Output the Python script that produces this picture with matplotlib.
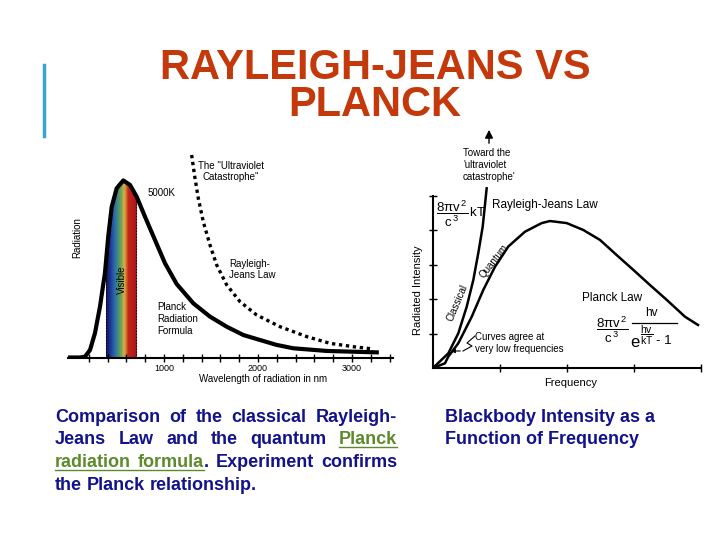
import numpy as np
import matplotlib.pyplot as plt
from matplotlib.colors import LinearSegmentedColormap
from matplotlib.lines import Line2D

plt.rcParams['font.family'] = ['Liberation Sans', 'DejaVu Sans']
plt.rcParams['mathtext.fontset'] = 'custom'
plt.rcParams['mathtext.rm'] = 'Liberation Sans'
plt.rcParams['mathtext.it'] = 'Liberation Sans'
plt.rcParams['mathtext.bf'] = 'Liberation Sans:bold'

# left chart: 5000 K curve vs wavelength in nm (relative radiation)
lamPlanck = [0, 106, 160, 213, 266, 319, 372, 407, 444, 497, 567, 638, 710, 798,
             904, 1011, 1135, 1312, 1489, 1667, 1844, 2021, 2199, 2376, 2731, 3263]
radPlanck = [0, 0, 0.005, 0.042, 0.138, 0.287, 0.477, 0.683, 0.852, 0.956, 1.0, 0.975,
             0.908, 0.795, 0.664, 0.532, 0.415, 0.306, 0.231, 0.174, 0.127, 0.099,
             0.071, 0.052, 0.037, 0.029]
lamRJ = [1294, 1330, 1365, 1418, 1489, 1560, 1667, 1809, 1986, 2234, 2518, 2766, 3014, 3227]
radRJ = [1.144, 1.012, 0.899, 0.767, 0.636, 0.523, 0.41, 0.315, 0.24, 0.174, 0.118,
         0.080, 0.061, 0.048]
visible = [380, 700]
lamTicks = list(range(200, 3401, 200))
lamTickLabels = [str(t) if t % 1000 == 0 else '' for t in lamTicks]

# right chart: intensity vs frequency (arbitrary units)
freqClassical = [0, 0.229, 0.378, 0.503, 0.602, 0.676, 0.742, 0.801]
intClassical = [0, 0.427, 1.01, 1.78, 2.56, 3.34, 4.11, 5.22]
freqQuantum = [0, 0.179, 0.228, 0.378, 0.578, 0.751, 0.925, 1.124, 1.373, 1.622, 1.746,
               1.996, 2.243, 2.493, 2.742, 2.990, 3.239, 3.488, 3.761, 3.955]
intQuantum = [0, 0.137, 0.33, 0.72, 1.49, 2.27, 2.94, 3.53, 3.96, 4.21, 4.27, 4.21,
              4.01, 3.72, 3.28, 2.85, 2.41, 1.98, 1.49, 1.25]
freqTicks = [1, 2, 3, 4]
intTicks = [1, 2, 3, 4, 5]

captionLeft = [
    "Comparison of the classical Rayleigh-",
    "Jeans Law and the quantum Planck",
    "radiation formula. Experiment confirms",
    "the Planck relationship.",
]
linkWords = [(1, 5), (2, 0), (2, 1)]
captionRight = ["Blackbody Intensity as a", "Function of Frequency"]

titleColor = '#c4390b'
navy = '#12128a'
green = '#5d8a2c'

W, H = 720, 540
fig = plt.figure(figsize=(7.2, 5.4), dpi=100)

# ---- left chart
ax1 = fig.add_axes([68/W, 1-357.5/H, 325/W, 207.5/H])
spectrum = LinearSegmentedColormap.from_list('spectrum', [
    (0.0, '#16164f'), (0.12, '#1c2f8c'), (0.25, '#2a5fae'), (0.37, '#3b8a86'),
    (0.5, '#7aa24c'), (0.58, '#cdb450'), (0.64, '#d9822c'), (0.72, '#c4261c'),
    (1.0, '#a8161a')])
fill = ax1.fill_between(lamPlanck, 0, radPlanck, color='none', lw=0)
img = ax1.imshow(np.linspace(0, 1, 256).reshape(1, -1), cmap=spectrum, aspect='auto',
                 extent=[visible[0], visible[1], 0, 1.0], zorder=1)
img.set_clip_path(fill.get_paths()[0], transform=ax1.transData)
ax1.vlines(visible, 0, np.interp(visible, lamPlanck, radPlanck), colors='black',
           linestyles=':', lw=0.8, zorder=2)
ax1.plot(lamPlanck, radPlanck, color='black', lw=3, zorder=3)
ax1.plot(lamRJ, radRJ, color='black', lw=2.4, linestyle=(0, (1, 1.1)), zorder=3)

ax1.set_xlim(-21, 3436)
ax1.set_ylim(0, 1.172)
for s in ['left', 'top', 'right']:
    ax1.spines[s].set_visible(False)
ax1.spines['bottom'].set_linewidth(1.5)
ax1.set_xticks(lamTicks)
ax1.set_xticklabels(lamTickLabels, fontsize=6.5)
ax1.tick_params(axis='x', direction='inout', length=6, width=1, pad=2)
ax1.set_yticks([])
ax1.set_xlabel('Wavelength of radiation in nm', fontsize=7, va='top')
ax1.xaxis.set_label_coords(0.6, -0.08)
ax1.text(0.028, 0.58, 'Radiation', transform=ax1.transAxes, rotation=90,
         ha='center', va='center', fontsize=7)
ax1.text(548, 0.438, 'Visible', rotation=90, ha='center', va='center', fontsize=7, zorder=4)
ax1.text(830, 0.928, '5000K', ha='left', va='center', fontsize=7)
ax1.text(1713, 1.05, 'The "Ultraviolet\nCatastrophe"', ha='center', va='center', fontsize=7)
ax1.text(1691, 0.497, 'Rayleigh-\nJeans Law', ha='left', va='center', fontsize=7)
ax1.text(926, 0.2175, 'Planck\nRadiation\nFormula', ha='left', va='center', fontsize=7,
         linespacing=1.3)

# ---- right chart
ax2 = fig.add_axes([433/W, 1-368/H, 268/W, 243/H])
ax2.plot(freqClassical, intClassical, color='black', lw=1.8)
ax2.plot(freqQuantum, intQuantum, color='black', lw=1.8)
ax2.set_xlim(0, 4.0)
ax2.set_ylim(0, 7.06)
for s in ['top', 'right']:
    ax2.spines[s].set_visible(False)
ax2.spines['left'].set_bounds(0, 5)
ax2.spines['left'].set_linewidth(1.5)
ax2.spines['bottom'].set_linewidth(1.5)
ax2.set_xticks(freqTicks)
ax2.set_yticks(intTicks)
ax2.set_xticklabels([])
ax2.set_yticklabels([])
ax2.tick_params(direction='inout', length=6, width=1)

ax2.annotate('', xy=(0.836, 7.0), xytext=(0.836, 6.45),
             arrowprops=dict(arrowstyle='-|>', color='black', lw=1, mutation_scale=12))
ax2.text(0.448, 5.9, "Toward the\n'ultraviolet\ncatastrophe'", ha='left', va='center',
         fontsize=7)
ax2.text(0.88, 4.74, 'Rayleigh-Jeans Law', ha='left', va='center', fontsize=8.5)
ax2.text(0.05, 4.49, r'$\dfrac{8\pi v^{\,2}}{c^{\,3}}\,\mathrm{kT}$', ha='left', va='center',
         fontsize=9.5)
ax2.text(0.366, 1.90, 'Classical', rotation=67, ha='center', va='center', fontsize=7)
ax2.text(0.903, 3.10, 'Quantum', rotation=52, ha='center', va='center', fontsize=7)
ax2.text(0.627, 0.727, 'Curves agree at\nvery low frequencies', ha='left', va='center',
         fontsize=7)
ax2.plot([0.627, 0.507, 0.582, 0.448], [0.93, 0.727, 0.64, 0.494], color='black', lw=0.8)
ax2.annotate('', xy=(0.224, 0.494), xytext=(0.448, 0.494),
             arrowprops=dict(arrowstyle='-|>', color='black', lw=0.8, mutation_scale=6))
ax2.text(2.224, 2.03, 'Planck Law', ha='left', va='center', fontsize=8.5)
# Planck formula assembled from pieces so the exponent stays readable
ax2.text(2.672, 1.105, r'$\dfrac{8\pi v^{\,2}}{c^{\,3}}$', ha='center', va='center',
         fontsize=9.5)
ax2.plot([2.97, 3.642], [1.308, 1.308], color='black', lw=0.9)
ax2.text(3.254, 1.6, 'hv', ha='center', va='center', fontsize=8.5)
ax2.text(3.015, 0.74, 'e', ha='center', va='center', fontsize=12)
ax2.text(3.194, 0.959, r'$\dfrac{hv}{kT}$', ha='center', va='center', fontsize=7.5)
ax2.text(3.45, 0.78, '- 1', ha='center', va='center', fontsize=9.5)
ax2.text(-0.056, 0.321, 'Radiated Intensity', transform=ax2.transAxes, rotation=90,
         ha='center', va='center', fontsize=8)
ax2.text(0.513, -0.062, 'Frequency', transform=ax2.transAxes, ha='center', va='center',
         fontsize=8)

# ---- slide title and bar
fig.text(375/W, 1-79/H, 'RAYLEIGH-JEANS VS', ha='center', va='baseline', fontsize=30,
         fontweight='bold', color=titleColor)
fig.text(375/W, 1-116/H, 'PLANCK', ha='center', va='baseline', fontsize=30,
         fontweight='bold', color=titleColor)
fig.add_artist(Line2D([44/W, 44/W], [1-65/H, 1-136/H], color='#3aa6d0', lw=2.5))

# ---- captions
capSize = 13
renderer = fig.canvas.get_renderer()


def text_width(s):
    t = fig.text(0, 0, s, fontsize=capSize, fontweight='bold')
    w = t.get_window_extent(renderer).width
    t.remove()
    return w


spaceW = text_width('a a') - text_width('aa')
left, right = 55, 397
baselines = [422, 444.5, 467, 489.5]
for i, line in enumerate(captionLeft):
    words = line.split()
    widths = [text_width(w) for w in words]
    if i < len(captionLeft) - 1:
        gap = (right - left - sum(widths)) / (len(words) - 1)
    else:
        gap = spaceW
    x = left
    y = 1 - baselines[i]/H
    ulStart, ulEnd = None, None
    for j, w in enumerate(words):
        if (i, j) in linkWords:
            core = w.rstrip('.')
            fig.text(x/W, y, core, fontsize=capSize, fontweight='bold', color=green,
                     va='baseline')
            cw = text_width(core)
            if core != w:
                fig.text((x + cw)/W, y, w[len(core):], fontsize=capSize,
                         fontweight='bold', color=navy, va='baseline')
            if ulStart is None:
                ulStart = x
            ulEnd = x + cw
        else:
            fig.text(x/W, y, w, fontsize=capSize, fontweight='bold', color=navy,
                     va='baseline')
        x += widths[j] + gap
    if ulStart is not None:
        fig.add_artist(Line2D([ulStart/W, ulEnd/W], [y - 2.5/H, y - 2.5/H], color=green, lw=1))

for i, line in enumerate(captionRight):
    fig.text(445/W, 1 - baselines[i]/H, line, fontsize=capSize, fontweight='bold',
             color=navy, va='baseline')

plt.savefig('out.png', dpi=100)
